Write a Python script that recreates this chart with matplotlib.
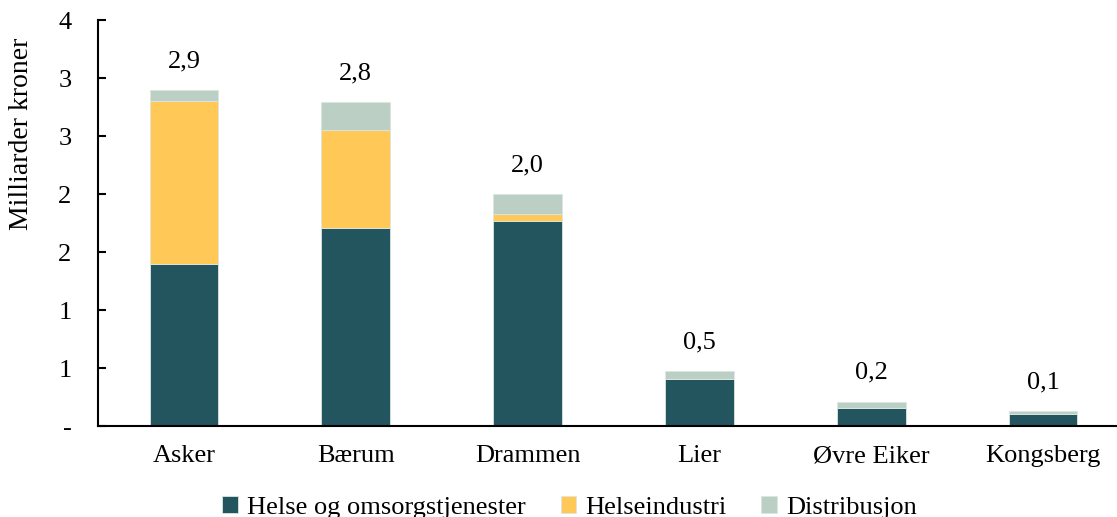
import math
import matplotlib
matplotlib.use("Agg")
import matplotlib.pyplot as plt
from matplotlib.ticker import FuncFormatter, MultipleLocator

kommuner = ["Asker", "Bærum", "Drammen", "Lier", "Øvre Eiker", "Kongsberg"]
helse_omsorg = [1.397, 1.707, 1.767, 0.405, 0.155, 0.103]
helseindustri = [1.405, 0.845, 0.060, 0.0, 0.0, 0.0]
distribusjon = [0.095, 0.241, 0.172, 0.069, 0.052, 0.026]

farger = ["#23555F", "#FFC857", "#BBCFC5"]
plt.rcParams["font.family"] = ["Liberation Serif", "DejaVu Serif"]

fig = plt.figure(figsize=(11.17, 5.17), dpi=100)
ax = fig.add_axes([0.0877, 0.176, 0.923, 0.785])

x = range(len(kommuner))
bunn2 = [a + b for a, b in zip(helse_omsorg, helseindustri)]
ax.bar(x, helse_omsorg, 0.4, color=farger[0], edgecolor="#dde6e2", linewidth=0.6,
       label="Helse og omsorgstjenester")
ax.bar(x, helseindustri, 0.4, bottom=helse_omsorg, color=farger[1],
       edgecolor="#dde6e2", linewidth=0.6, label="Helseindustri")
ax.bar(x, distribusjon, 0.4, bottom=bunn2, color=farger[2],
       edgecolor="#dde6e2", linewidth=0.6, label="Distribusjon")

totalt = [a + b for a, b in zip(bunn2, distribusjon)]
for i, t in enumerate(totalt):
    ax.annotate(f"{t:.1f}".replace(".", ","), (i, t), xytext=(0, 13),
                textcoords="offset points", ha="center", va="bottom", fontsize=19)

ax.set_xlim(-0.5, 5.5)
ax.set_ylim(0, 3.5)
ax.yaxis.set_major_locator(MultipleLocator(0.5))
ax.yaxis.set_major_formatter(FuncFormatter(
    lambda v, p: "-" if abs(v) < 1e-9 else str(int(math.floor(v + 0.5)))))
ax.set_xticks(list(x))
ax.set_xticklabels(kommuner)
ax.tick_params(axis="x", length=0, pad=14, labelsize=19)
ax.tick_params(axis="y", direction="in", length=6, width=1.5, pad=19, labelsize=19)
ax.spines["top"].set_visible(False)
ax.spines["right"].set_visible(False)
ax.spines["left"].set_linewidth(1.5)
ax.spines["bottom"].set_linewidth(1.5)
ax.set_ylabel("Milliarder kroner", fontsize=20)
ax.yaxis.set_label_coords(-0.062, 0.72)

fig.legend(loc="lower center", bbox_to_anchor=(0.51, -0.05), ncol=3, frameon=False,
           fontsize=19, handlelength=0.6, handleheight=0.6, handletextpad=0.35,
           columnspacing=1.3)

fig.savefig("out.png", dpi=100)
